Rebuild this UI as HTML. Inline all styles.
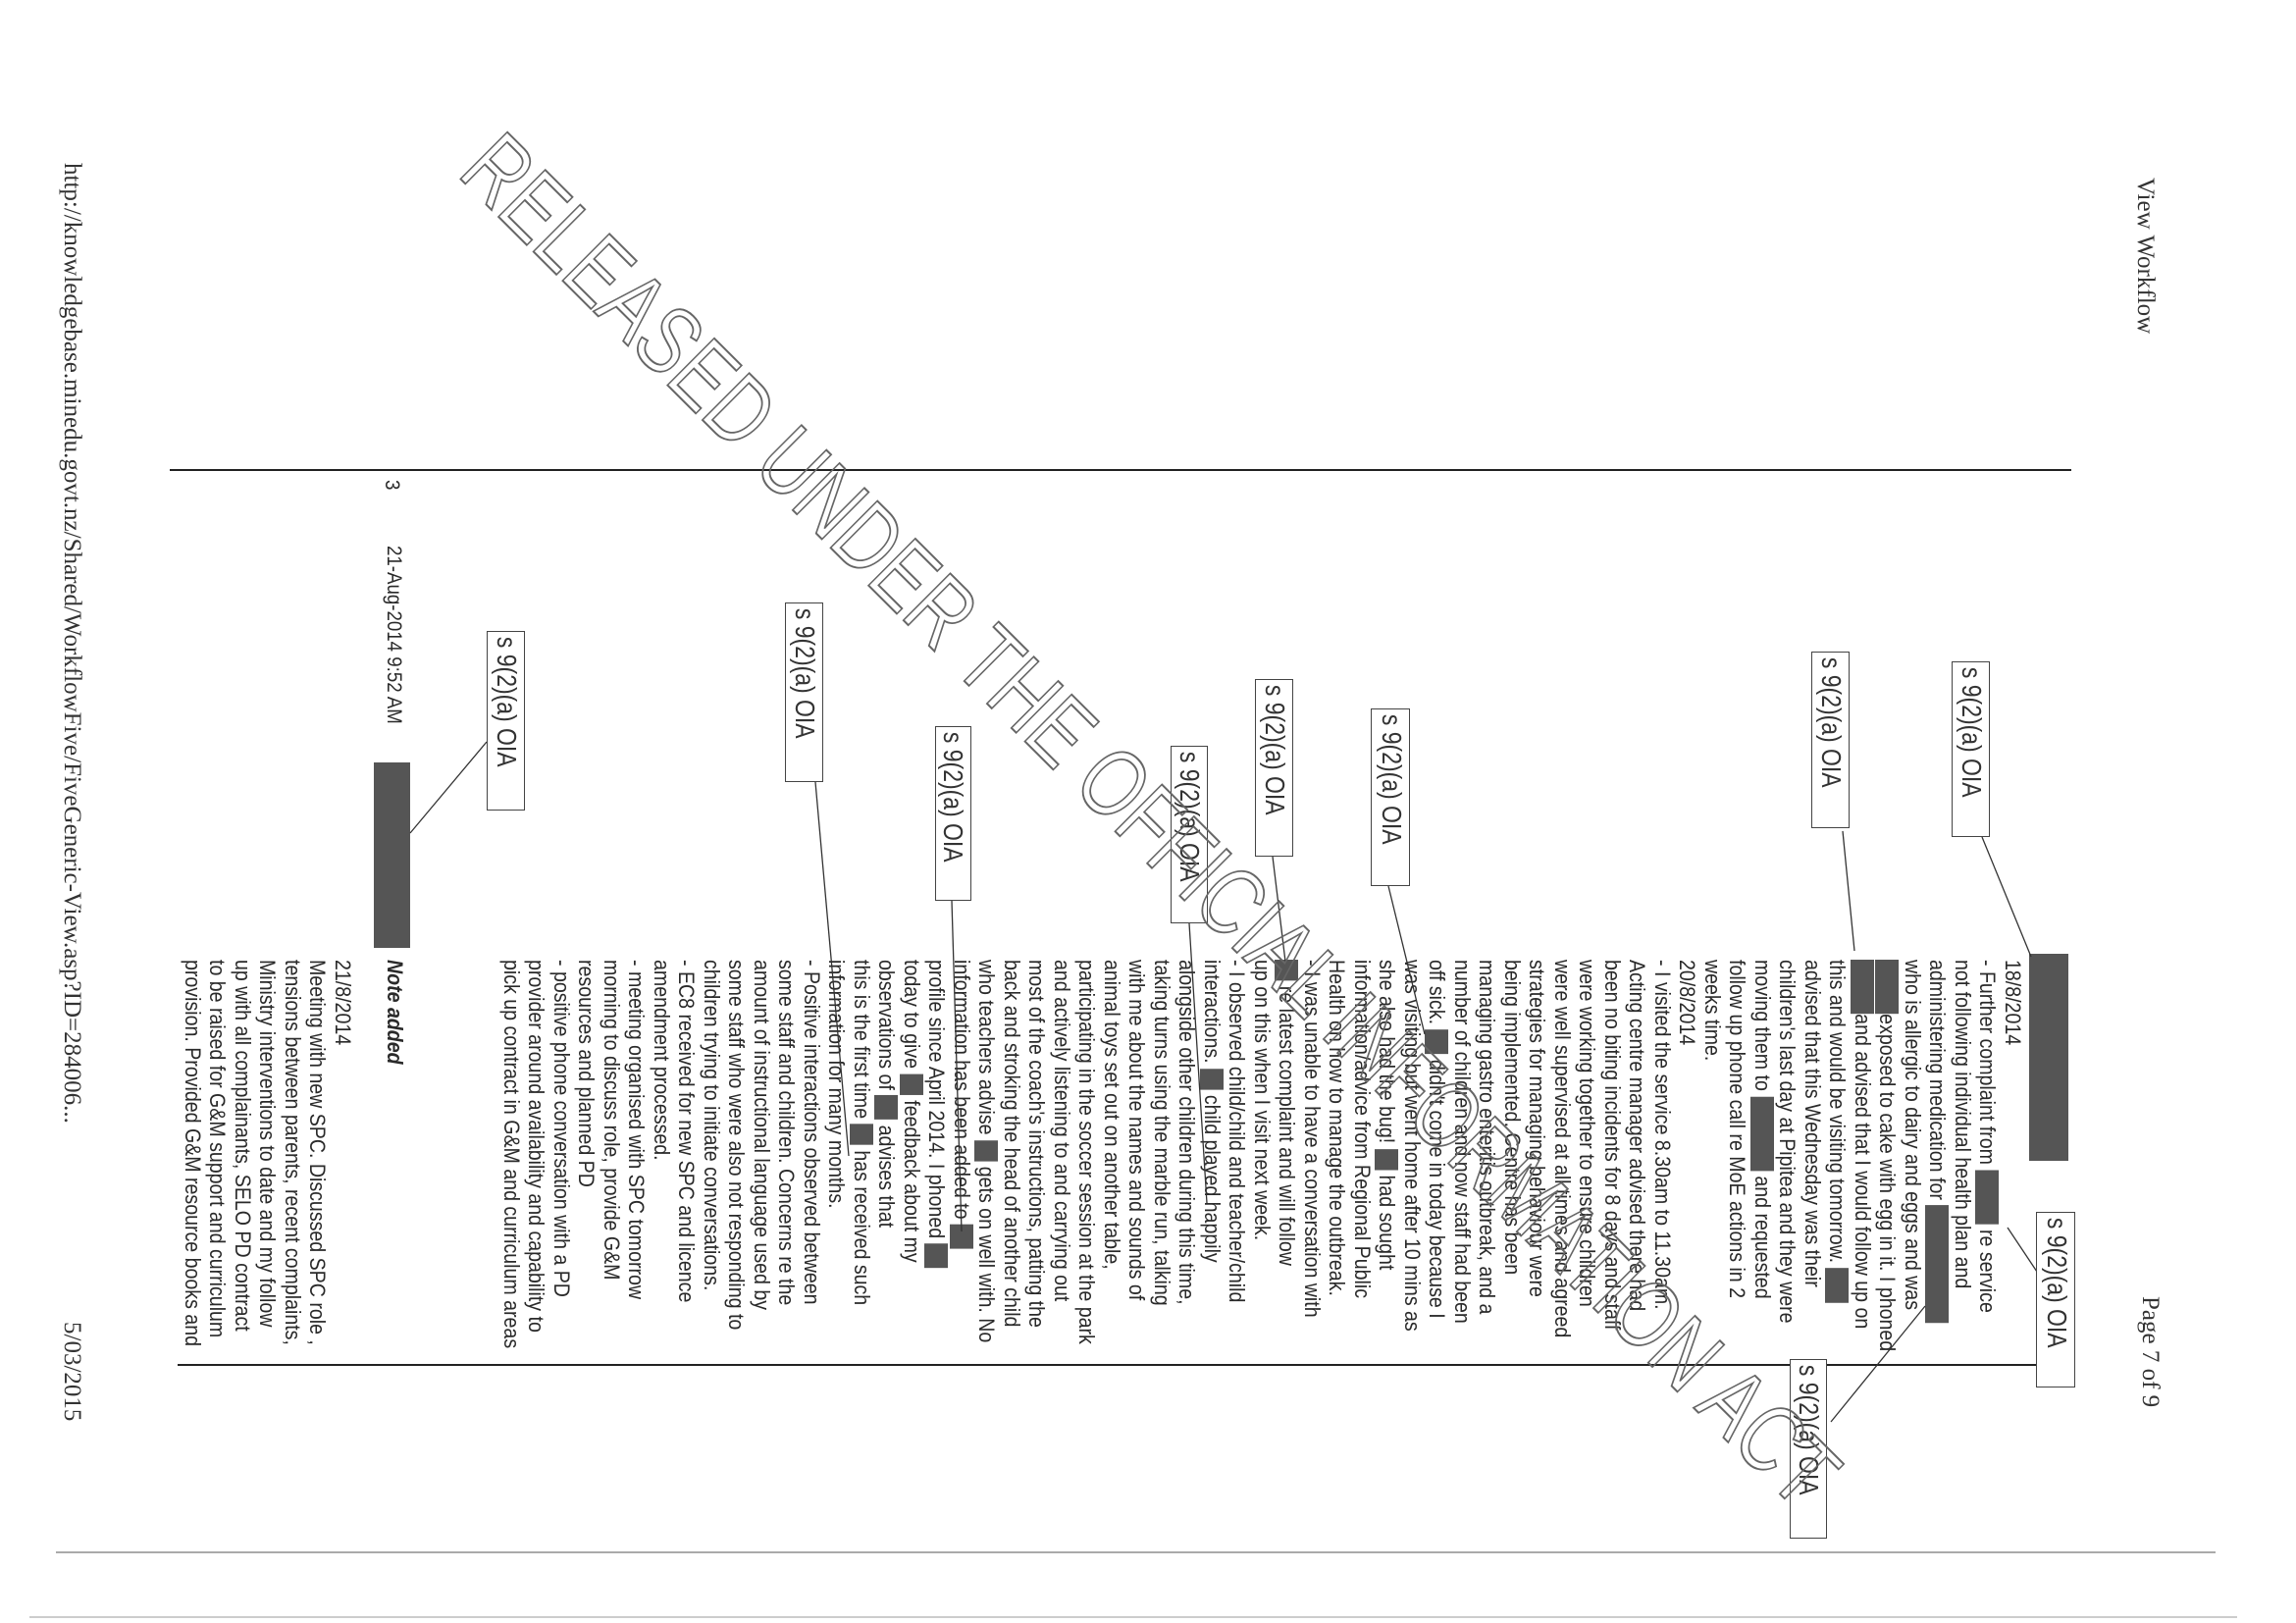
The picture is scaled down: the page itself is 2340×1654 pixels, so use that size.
<!DOCTYPE html>
<html><head><meta charset="utf-8"><style>
html,body{margin:0;padding:0;background:#fff;}
body{width:2340px;height:1654px;position:relative;overflow:hidden;}
#pf{position:absolute;left:0;top:0;width:1654px;height:2340px;transform:translate(2340px,0) rotate(90deg);transform-origin:0 0;}
.ser{position:absolute;font-family:"Liberation Serif",serif;font-size:25px;color:#333;white-space:nowrap;}
.txt{position:absolute;font-family:"Liberation Sans",sans-serif;font-size:22px;line-height:25.5px;color:#2a2a2a;white-space:nowrap;transform:scaleX(0.89);transform-origin:0 0;}
.r{display:inline-block;background:#555;height:24px;vertical-align:-5px;}
.oia{position:absolute;border:1.6px solid #444;box-sizing:border-box;background:#fff;font-family:"Liberation Sans",sans-serif;font-size:28px;color:#333;white-space:nowrap;overflow:hidden;line-height:36px;}
.oia span{display:inline-block;transform:scaleX(0.82);transform-origin:0 0;padding-left:6px;}
.vl{position:absolute;background:#222;}
</style></head><body>
<div id="pf">
<div class="ser" style="left:181px;top:140px;">View Workflow</div>
<div class="ser" style="left:1321px;top:135px;">Page 7 of 9</div>
<div class="ser" style="left:166px;top:2253px;">http://knowledgebase.minedu.govt.nz/Shared/WorkflowFive/FiveGeneric-View.asp?ID=284006...</div>
<div class="ser" style="left:1347px;top:2253px;">5/03/2015</div>

<div class="vl" style="left:478px;top:229px;width:2px;height:1938px;"></div>
<div class="vl" style="left:1390px;top:233px;width:2px;height:1926px;"></div>
<div class="vl" style="left:1581px;top:82px;width:2px;height:2201px;background:#aaa;"></div>
<div class="vl" style="left:1647px;top:60px;width:2px;height:2250px;background:#ccc;"></div>

<div class="txt" style="left:978px;top:276px;">18/8/2014<br>- Further complaint from <span class="r" style="width:62px"></span> re service<br>not following individual health plan and<br>administering medication for <span class="r" style="width:135px"></span><br>who is allergic to dairy and eggs and was<br><span class="r" style="width:62px"></span>exposed to cake with egg in it. I phoned<br><span class="r" style="width:62px"></span>and advised that I would follow up on<br>this and would be visiting tomorrow. <span class="r" style="width:40px"></span><br>advised that this Wednesday was their<br>children's last day at Pipitea and they were<br>moving them to <span class="r" style="width:85px"></span> and requested<br>follow up phone call re MoE actions in 2<br>weeks time.<br>20/8/2014<br>- I visited the service 8.30am to 11.30am.<br>Acting centre manager advised there had<br>been no biting incidents for 8 days and staff<br>were working together to ensure children<br>were well supervised at all times and agreed<br>strategies for managing behaviour were<br>being implemented. Centre has been<br>managing gastro enteritis outbreak, and a<br>number of children and now staff had been<br>off sick. <span class="r" style="width:28px"></span> didn't come in today because I<br>was visiting but went home after 10 mins as<br>she also had the bug! <span class="r" style="width:24px"></span> had sought<br>information/advice from Regional Public<br>Health on how to manage the outbreak.<br>- I was unable to have a conversation with<br><span class="r" style="width:24px"></span> re latest complaint and will follow<br>up on this when I visit next week.<br>- I observed child/child and teacher/child<br>interactions. <span class="r" style="width:24px"></span> child played happily<br>alongside other children during this time,<br>taking turns using the marble run, talking<br>with me about the names and sounds of<br>animal toys set out on another table,<br>participating in the soccer session at the park<br>and actively listening to and carrying out<br>most of the coach's instructions, patting the<br>back and stroking the head of another child<br>who teachers advise <span class="r" style="width:24px"></span> gets on well with. No<br>information has been added to <span class="r" style="width:28px"></span><br>profile since April 2014. I phoned <span class="r" style="width:28px"></span><br>today to give <span class="r" style="width:24px"></span> feedback about my<br>observations of <span class="r" style="width:28px"></span> advises that<br>this is the first time <span class="r" style="width:24px"></span> has received such<br>information for many months.<br>- Positive interactions observed between<br>some staff and children. Concerns re the<br>amount of instructional language used by<br>some staff who were also not responding to<br>children trying to initiate conversations.<br>- EC8 received for new SPC and licence<br>amendment processed.<br>- meeting organised with SPC tomorrow<br>morning to discuss role, provide G&amp;M<br>resources and planned PD<br>- positive phone conversation with a PD<br>provider around availability and capability to<br>pick up contract in G&amp;M and curriculum areas</div>

<div style="position:absolute;left:972px;top:232px;width:211px;height:40px;background:#555;"></div>

<div class="txt" style="left:489px;top:1928px;font-size:21px;">3</div>
<div class="txt" style="left:556px;top:1926px;font-size:21px;">21-Aug-2014 9:52 AM</div>
<div style="position:absolute;left:777px;top:1922px;width:189px;height:37px;background:#555;"></div>
<div class="txt" style="left:978px;top:1925px;font-weight:bold;font-style:italic;">Note added</div>
<div class="txt" style="left:978px;top:1978px;">21/8/2014<br>Meeting with new SPC. Discussed SPC role ,<br>tensions between parents, recent complaints,<br>Ministry interventions to date and my follow<br>up with all complainants, SELO PD contract<br>to be raised for G&amp;M support and curriculum<br>provision. Provided G&amp;M resource books and</div>

<svg style="position:absolute;left:0;top:0;" width="1654" height="2340">
<g stroke="#333" stroke-width="1.3" fill="none">
<line x1="853" y1="320" x2="975" y2="270"/>
<line x1="847" y1="462" x2="969" y2="450"/>
<line x1="1251" y1="294" x2="1299" y2="262"/>
<line x1="1449" y1="474" x2="1331" y2="378"/>
<line x1="756" y1="1844" x2="849" y2="1922"/>
<line x1="797" y1="1509" x2="1178" y2="1475"/>
<line x1="903" y1="925" x2="1054" y2="888"/>
<line x1="873" y1="1043" x2="980" y2="1030"/>
<line x1="941" y1="1128" x2="1226" y2="1110"/>
<line x1="918" y1="1370" x2="1255" y2="1360"/>
</g></svg>

<div class="oia" style="left:674px;top:312px;width:179px;height:39px;"><span>s 9(2)(a) OIA</span></div>
<div class="oia" style="left:664px;top:455px;width:180px;height:39px;"><span>s 9(2)(a) OIA</span></div>
<div class="oia" style="left:1235px;top:225px;width:179px;height:40px;"><span>s 9(2)(a) OIA</span></div>
<div class="oia" style="left:1385px;top:478px;width:183px;height:38px;"><span>s 9(2)(a) OIA</span></div>
<div class="oia" style="left:722px;top:903px;width:181px;height:40px;"><span>s 9(2)(a) OIA</span></div>
<div class="oia" style="left:692px;top:1022px;width:181px;height:39px;"><span>s 9(2)(a) OIA</span></div>
<div class="oia" style="left:760px;top:1109px;width:181px;height:38px;"><span>s 9(2)(a) OIA</span></div>
<div class="oia" style="left:740px;top:1350px;width:178px;height:37px;"><span>s 9(2)(a) OIA</span></div>
<div class="oia" style="left:614px;top:1501px;width:183px;height:39px;"><span>s 9(2)(a) OIA</span></div>
<div class="oia" style="left:643px;top:1805px;width:183px;height:39px;"><span>s 9(2)(a) OIA</span></div>
</div>

<svg style="position:absolute;left:0;top:0;" width="2340" height="1654">
<text x="0" y="0" transform="translate(465,178) rotate(44.9)" font-family="Liberation Sans, sans-serif" font-size="98" fill="none" stroke="#666" stroke-width="2" textLength="1931" lengthAdjust="spacingAndGlyphs">RELEASED UNDER THE OFFICIAL INFORMATION ACT</text>
</svg>
</body></html>
